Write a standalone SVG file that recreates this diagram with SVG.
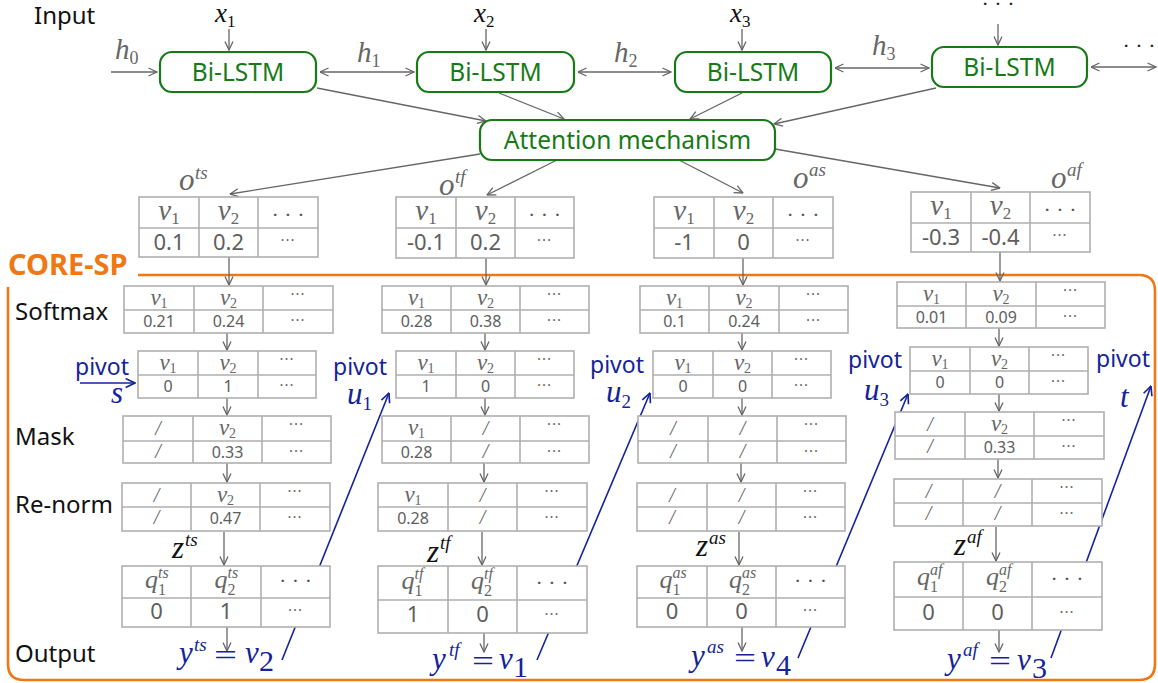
<svg xmlns="http://www.w3.org/2000/svg" width="1158" height="683" viewBox="0 0 1158 683">
<defs>
<marker id="ah" viewBox="0 0 10 10" refX="9.5" refY="5" markerWidth="10" markerHeight="10" markerUnits="userSpaceOnUse" orient="auto-start-reverse"><path d="M1,1 L9.5,5 L1,9" fill="none" stroke="#666" stroke-width="1.3"/></marker>
<marker id="bh" viewBox="0 0 10 10" refX="9.5" refY="5" markerWidth="11" markerHeight="11" markerUnits="userSpaceOnUse" orient="auto-start-reverse"><path d="M1,1 L9.5,5 L1,9" fill="none" stroke="#14239b" stroke-width="1.5"/></marker>
<style>
.lbl{font-family:"Noto Sans","Open Sans",sans-serif;font-size:24px;fill:#111}
.core{font-family:"Noto Sans","Open Sans",sans-serif;font-size:29px;font-weight:700;fill:#f07814}
.frame{fill:none;stroke:#f07814;stroke-width:2.6}
.gbox{fill:#fff;stroke:#177a17;stroke-width:2.2}
.gt{font-family:"Noto Sans","Open Sans",sans-serif;font-size:24.5px;fill:#177a17;text-anchor:middle}
.cell{fill:#fff;stroke:#b0b0b0;stroke-width:1.6}
.grid{fill:none;stroke:#b0b0b0;stroke-width:1.6}
.a{fill:none;stroke:#666;stroke-width:1.3;marker-end:url(#ah)}
.a2{fill:none;stroke:#666;stroke-width:1.3;marker-start:url(#ah);marker-end:url(#ah)}
.b{fill:none;stroke:#14239b;stroke-width:1.6;marker-end:url(#bh)}
.mi{font-family:"Liberation Serif","Times New Roman",serif;font-style:italic}
.up{font-style:normal}
.gr{fill:#666}
.k{fill:#111}
.bt{fill:#14239b}
.mid{text-anchor:middle}
.vo{font-size:29px}
.vi{font-size:23px}
.nb{font-family:"Noto Sans","Open Sans",sans-serif;font-size:22px;fill:#5e5e5e;text-anchor:middle}
.ns{font-family:"Noto Sans","Open Sans",sans-serif;font-size:16px;fill:#5e5e5e;text-anchor:middle}
.dl{font-family:"Liberation Serif",serif;font-size:22px;fill:#555;text-anchor:middle}
.ds{font-family:"Noto Sans","Open Sans",sans-serif;font-size:15px;fill:#666;text-anchor:middle;letter-spacing:1px}
.sl{font-family:"Liberation Serif",serif;font-style:italic;font-size:20px;fill:#666;text-anchor:middle}
.pv{font-family:"Noto Sans","Open Sans",sans-serif;font-size:23px;fill:#14239b}
.eq{font-family:"Liberation Serif",serif;font-size:30px;fill:#14239b}
.q{font-family:"Liberation Serif",serif;font-style:italic;fill:#666}
</style>
</defs>
<rect width="1158" height="683" fill="#fff"/>

<g id="side-labels">
<text class="lbl" x="34" y="24">Input</text>
<text class="lbl" x="15" y="320">Softmax</text>
<text class="lbl" x="15" y="445">Mask</text>
<text class="lbl" x="15" y="513">Re-norm</text>
<text class="lbl" x="15" y="662">Output</text>
<text class="core" x="8" y="275">CORE-SP</text>
</g>

<g id="core-sp-frame">
<path class="frame" d="M138,275 H1139 Q1155,275 1155,291 V664 Q1155,680 1139,680 H24 Q8,680 8,664 V287"/>
</g>

<g id="connectors">
<path class="a" d="M229 29V50"/>
<path class="a" d="M486 29V50"/>
<path class="a" d="M742 29V50"/>
<path class="a" d="M998 24V45"/>
<path class="a" d="M111 72H157"/>
<path class="a2" d="M320 72H414"/>
<path class="a2" d="M578 72H671"/>
<path class="a2" d="M835 68H929"/>
<path class="a2" d="M1091 67H1156"/>
<path class="a" d="M317 88L486 121"/>
<path class="a" d="M499 93L564 119"/>
<path class="a" d="M742 93L690 119"/>
<path class="a" d="M936 88L774 124"/>
<path class="a" d="M480 154L230 194"/>
<path class="a" d="M557 160L487 195"/>
<path class="a" d="M679 160L743 193"/>
<path class="a" d="M775 149L1000 188"/>
<path class="a" d="M229 257V285"/>
<path class="a" d="M227 333V350"/>
<path class="a" d="M227 398V415"/>
<path class="a" d="M227 463V482"/>
<path class="a" d="M224 532V565"/>
<path class="a" d="M227 627V651"/>
<path class="a" d="M486 258V285"/>
<path class="a" d="M485 333V350"/>
<path class="a" d="M485 398V415"/>
<path class="a" d="M484 463V482"/>
<path class="a" d="M482 532V565"/>
<path class="a" d="M484 633V652"/>
<path class="a" d="M743 258V285"/>
<path class="a" d="M742 333V350"/>
<path class="a" d="M742 398V415"/>
<path class="a" d="M741 463V482"/>
<path class="a" d="M739 532V565"/>
<path class="a" d="M742 627V651"/>
<path class="a" d="M1000 252V281"/>
<path class="a" d="M999 328V346"/>
<path class="a" d="M999 394V411"/>
<path class="a" d="M998 459V478"/>
<path class="a" d="M996 527V561"/>
<path class="a" d="M999 630V652"/>
<path class="b" d="M80 383H135"/>
<path class="b" d="M282 660L389 393"/>
<path class="b" d="M537 660L650 393"/>
<path class="b" d="M798 658L908 394"/>
<path class="b" d="M1051 658L1151 386"/>
</g>

<g id="bilstm-1"><rect class="gbox" x="160" y="52" width="156" height="40" rx="12"/><text class="gt" x="238" y="81">Bi-LSTM</text></g>
<g id="bilstm-2"><rect class="gbox" x="417" y="52" width="157" height="40" rx="12"/><text class="gt" x="495.5" y="81">Bi-LSTM</text></g>
<g id="bilstm-3"><rect class="gbox" x="675" y="52" width="156" height="40" rx="12"/><text class="gt" x="753" y="81">Bi-LSTM</text></g>
<g id="bilstm-4"><rect class="gbox" x="932" y="47" width="155" height="40" rx="12"/><text class="gt" x="1009.5" y="76">Bi-LSTM</text></g>
<g id="attention"><rect class="gbox" x="480" y="120" width="295" height="40" rx="12"/><text class="gt" x="627.5" y="149">Attention mechanism</text></g>

<g id="inputs">
<text class="mi k" x="215" y="22" font-size="27">x<tspan class="up" font-size="17" dy="5">1</tspan></text>
<text class="mi k" x="474" y="22" font-size="27">x<tspan class="up" font-size="17" dy="5">2</tspan></text>
<text class="mi k" x="730" y="22" font-size="27">x<tspan class="up" font-size="17" dy="5">3</tspan></text>
<text class="dl" x="998" y="11" style="fill:#222">· · ·</text>
<text class="dl" x="1139" y="53" style="fill:#222">· · ·</text>
<text class="mi gr" x="115" y="59" font-size="29">h<tspan class="up" font-size="18" dy="5">0</tspan></text>
<text class="mi gr" x="357" y="62" font-size="29">h<tspan class="up" font-size="18" dy="5">1</tspan></text>
<text class="mi gr" x="614" y="62" font-size="29">h<tspan class="up" font-size="18" dy="5">2</tspan></text>
<text class="mi gr" x="872" y="55" font-size="29">h<tspan class="up" font-size="18" dy="5">3</tspan></text>
</g>

<g id="o-labels">
<text class="mi gr" x="179" y="190" font-size="31">o</text><text class="mi gr" x="195" y="179" font-size="19">ts</text>
<text class="mi gr" x="439" y="195" font-size="31">o</text><text class="mi gr" x="455" y="183" font-size="19">tf</text>
<text class="mi gr" x="793" y="188" font-size="31">o</text><text class="mi gr" x="809" y="176" font-size="19">as</text>
<text class="mi gr" x="1051" y="188" font-size="31">o</text><text class="mi gr" x="1067" y="176" font-size="19">af</text>
</g>

<g id="ts-o">
<rect class="cell" x="139" y="197" width="179" height="60"/>
<path class="grid" d="M199 197V257M258 197V257M139 228H318"/>
<text class="mi gr mid vo" x="169" y="220">v<tspan class="up" font-size="17" dy="4">1</tspan></text>
<text class="mi gr mid vo" x="228.5" y="220">v<tspan class="up" font-size="17" dy="4">2</tspan></text>
<text class="dl" x="288" y="222">· · ·</text>
<text class="nb" x="169" y="250">0.1</text>
<text class="nb" x="228.5" y="250">0.2</text>
<text class="ds" x="288" y="245">···</text>
</g>
<g id="tf-o">
<rect class="cell" x="396" y="197" width="178" height="61"/>
<path class="grid" d="M456 197V258M515 197V258M396 228H574"/>
<text class="mi gr mid vo" x="426" y="220">v<tspan class="up" font-size="17" dy="4">1</tspan></text>
<text class="mi gr mid vo" x="485.5" y="220">v<tspan class="up" font-size="17" dy="4">2</tspan></text>
<text class="dl" x="544.5" y="222">· · ·</text>
<text class="nb" x="426" y="250">-0.1</text>
<text class="nb" x="485.5" y="250">0.2</text>
<text class="ds" x="544.5" y="245">···</text>
</g>
<g id="as-o">
<rect class="cell" x="654" y="197" width="179" height="61"/>
<path class="grid" d="M714 197V258M773 197V258M654 228H833"/>
<text class="mi gr mid vo" x="684" y="220">v<tspan class="up" font-size="17" dy="4">1</tspan></text>
<text class="mi gr mid vo" x="743.5" y="220">v<tspan class="up" font-size="17" dy="4">2</tspan></text>
<text class="dl" x="803" y="222">· · ·</text>
<text class="nb" x="684" y="250">-1</text>
<text class="nb" x="743.5" y="250">0</text>
<text class="ds" x="803" y="245">···</text>
</g>
<g id="af-o">
<rect class="cell" x="911" y="192" width="179" height="60"/>
<path class="grid" d="M971 192V252M1030 192V252M911 223H1090"/>
<text class="mi gr mid vo" x="941" y="215">v<tspan class="up" font-size="17" dy="4">1</tspan></text>
<text class="mi gr mid vo" x="1000.5" y="215">v<tspan class="up" font-size="17" dy="4">2</tspan></text>
<text class="dl" x="1060" y="217">· · ·</text>
<text class="nb" x="941" y="245">-0.3</text>
<text class="nb" x="1000.5" y="245">-0.4</text>
<text class="ds" x="1060" y="240">···</text>
</g>

<g id="ts-softmax">
<rect class="cell" x="124" y="286" width="209" height="47"/>
<path class="grid" d="M194 286V333M263 286V333M124 310H333"/>
<text class="mi gr mid vi" x="159" y="305">v<tspan class="up" font-size="14" dy="3">1</tspan></text>
<text class="mi gr mid vi" x="228.5" y="305">v<tspan class="up" font-size="14" dy="3">2</tspan></text>
<text class="ds" x="298" y="299">···</text>
<text class="ns" x="159" y="327">0.21</text>
<text class="ns" x="228.5" y="327">0.24</text>
<text class="ds" x="298" y="325">···</text>
</g>
<g id="ts-pivot">
<rect class="cell" x="138" y="351" width="178" height="47"/>
<path class="grid" d="M198 351V398M258 351V398M138 375H316"/>
<text class="mi gr mid vi" x="168" y="370">v<tspan class="up" font-size="14" dy="3">1</tspan></text>
<text class="mi gr mid vi" x="228" y="370">v<tspan class="up" font-size="14" dy="3">2</tspan></text>
<text class="ds" x="287" y="364">···</text>
<text class="ns" x="168" y="392">0</text>
<text class="ns" x="228" y="392">1</text>
<text class="ds" x="287" y="390">···</text>
</g>
<g id="ts-mask">
<rect class="cell" x="123" y="416" width="208" height="47"/>
<path class="grid" d="M193 416V463M262 416V463M123 441H331"/>
<text class="sl" x="158" y="435">/</text>
<text class="mi gr mid vi" x="227.5" y="435">v<tspan class="up" font-size="14" dy="3">2</tspan></text>
<text class="ds" x="296.5" y="429">···</text>
<text class="sl" x="158" y="458">/</text>
<text class="ns" x="227.5" y="458">0.33</text>
<text class="ds" x="296.5" y="456">···</text>
</g>
<g id="ts-renorm">
<rect class="cell" x="122" y="483" width="208" height="48"/>
<path class="grid" d="M191 483V531M260 483V531M122 507H330"/>
<text class="sl" x="156.5" y="502">/</text>
<text class="mi gr mid vi" x="225.5" y="502">v<tspan class="up" font-size="14" dy="3">2</tspan></text>
<text class="ds" x="295" y="496">···</text>
<text class="sl" x="156.5" y="524">/</text>
<text class="ns" x="225.5" y="524">0.47</text>
<text class="ds" x="295" y="522">···</text>
</g>
<g id="ts-output">
<rect class="cell" x="122" y="566" width="208" height="61"/>
<path class="grid" d="M191 566V627M261 566V627M122 598H330"/>
<text class="q" x="145" y="588" font-size="26">q</text><text class="q" x="158" y="595" font-size="16" style="font-style:normal">1</text><text class="q" x="158" y="578" font-size="16">ts</text>
<text class="q" x="214.5" y="588" font-size="26">q</text><text class="q" x="227.5" y="595" font-size="16" style="font-style:normal">2</text><text class="q" x="227.5" y="578" font-size="16">ts</text>
<text class="dl" x="295.5" y="588">· · ·</text>
<text class="nb" x="156.5" y="619">0</text>
<text class="nb" x="226" y="619">1</text>
<text class="ds" x="295.5" y="615">···</text>
</g>

<g id="tf-softmax">
<rect class="cell" x="382" y="286" width="207" height="47"/>
<path class="grid" d="M451 286V333M520 286V333M382 310H589"/>
<text class="mi gr mid vi" x="416.5" y="305">v<tspan class="up" font-size="14" dy="3">1</tspan></text>
<text class="mi gr mid vi" x="485.5" y="305">v<tspan class="up" font-size="14" dy="3">2</tspan></text>
<text class="ds" x="554.5" y="299">···</text>
<text class="ns" x="416.5" y="327">0.28</text>
<text class="ns" x="485.5" y="327">0.38</text>
<text class="ds" x="554.5" y="325">···</text>
</g>
<g id="tf-pivot">
<rect class="cell" x="396" y="351" width="178" height="47"/>
<path class="grid" d="M456 351V398M515 351V398M396 375H574"/>
<text class="mi gr mid vi" x="426" y="370">v<tspan class="up" font-size="14" dy="3">1</tspan></text>
<text class="mi gr mid vi" x="485.5" y="370">v<tspan class="up" font-size="14" dy="3">2</tspan></text>
<text class="ds" x="544.5" y="364">···</text>
<text class="ns" x="426" y="392">1</text>
<text class="ns" x="485.5" y="392">0</text>
<text class="ds" x="544.5" y="390">···</text>
</g>
<g id="tf-mask">
<rect class="cell" x="382" y="416" width="207" height="47"/>
<path class="grid" d="M451 416V463M520 416V463M382 441H589"/>
<text class="mi gr mid vi" x="416.5" y="435">v<tspan class="up" font-size="14" dy="3">1</tspan></text>
<text class="sl" x="485.5" y="435">/</text>
<text class="ds" x="554.5" y="429">···</text>
<text class="ns" x="416.5" y="458">0.28</text>
<text class="sl" x="485.5" y="458">/</text>
<text class="ds" x="554.5" y="456">···</text>
</g>
<g id="tf-renorm">
<rect class="cell" x="378" y="483" width="209" height="48"/>
<path class="grid" d="M448 483V531M517 483V531M378 507H587"/>
<text class="mi gr mid vi" x="413" y="502">v<tspan class="up" font-size="14" dy="3">1</tspan></text>
<text class="sl" x="482.5" y="502">/</text>
<text class="ds" x="552" y="496">···</text>
<text class="ns" x="413" y="524">0.28</text>
<text class="sl" x="482.5" y="524">/</text>
<text class="ds" x="552" y="522">···</text>
</g>
<g id="tf-output">
<rect class="cell" x="378" y="566" width="209" height="67"/>
<path class="grid" d="M448 566V633M517 566V633M378 600H587"/>
<text class="q" x="401.5" y="589" font-size="26">q</text><text class="q" x="414.5" y="596" font-size="16" style="font-style:normal">1</text><text class="q" x="414.5" y="579" font-size="16">tf</text>
<text class="q" x="471" y="589" font-size="26">q</text><text class="q" x="484" y="596" font-size="16" style="font-style:normal">2</text><text class="q" x="484" y="579" font-size="16">tf</text>
<text class="dl" x="552" y="590">· · ·</text>
<text class="nb" x="413" y="622">1</text>
<text class="nb" x="482.5" y="622">0</text>
<text class="ds" x="552" y="619">···</text>
</g>

<g id="as-softmax">
<rect class="cell" x="640" y="286" width="208" height="47"/>
<path class="grid" d="M709 286V333M779 286V333M640 310H848"/>
<text class="mi gr mid vi" x="674.5" y="305">v<tspan class="up" font-size="14" dy="3">1</tspan></text>
<text class="mi gr mid vi" x="744" y="305">v<tspan class="up" font-size="14" dy="3">2</tspan></text>
<text class="ds" x="813.5" y="299">···</text>
<text class="ns" x="674.5" y="327">0.1</text>
<text class="ns" x="744" y="327">0.24</text>
<text class="ds" x="813.5" y="325">···</text>
</g>
<g id="as-pivot">
<rect class="cell" x="653" y="351" width="178" height="47"/>
<path class="grid" d="M713 351V398M772 351V398M653 375H831"/>
<text class="mi gr mid vi" x="683" y="370">v<tspan class="up" font-size="14" dy="3">1</tspan></text>
<text class="mi gr mid vi" x="742.5" y="370">v<tspan class="up" font-size="14" dy="3">2</tspan></text>
<text class="ds" x="801.5" y="364">···</text>
<text class="ns" x="683" y="392">0</text>
<text class="ns" x="742.5" y="392">0</text>
<text class="ds" x="801.5" y="390">···</text>
</g>
<g id="as-mask">
<rect class="cell" x="638" y="416" width="208" height="47"/>
<path class="grid" d="M708 416V463M777 416V463M638 441H846"/>
<text class="sl" x="673" y="435">/</text>
<text class="sl" x="742.5" y="435">/</text>
<text class="ds" x="811.5" y="429">···</text>
<text class="sl" x="673" y="458">/</text>
<text class="sl" x="742.5" y="458">/</text>
<text class="ds" x="811.5" y="456">···</text>
</g>
<g id="as-renorm">
<rect class="cell" x="637" y="483" width="208" height="48"/>
<path class="grid" d="M707 483V531M776 483V531M637 507H845"/>
<text class="sl" x="672" y="502">/</text>
<text class="sl" x="741.5" y="502">/</text>
<text class="ds" x="810.5" y="496">···</text>
<text class="sl" x="672" y="524">/</text>
<text class="sl" x="741.5" y="524">/</text>
<text class="ds" x="810.5" y="522">···</text>
</g>
<g id="as-output">
<rect class="cell" x="637" y="566" width="208" height="61"/>
<path class="grid" d="M707 566V627M776 566V627M637 598H845"/>
<text class="q" x="659.5" y="588" font-size="26">q</text><text class="q" x="672.5" y="595" font-size="16" style="font-style:normal">1</text><text class="q" x="672.5" y="578" font-size="16">as</text>
<text class="q" x="729" y="588" font-size="26">q</text><text class="q" x="742" y="595" font-size="16" style="font-style:normal">2</text><text class="q" x="742" y="578" font-size="16">as</text>
<text class="dl" x="810.5" y="588">· · ·</text>
<text class="nb" x="672" y="619">0</text>
<text class="nb" x="741.5" y="619">0</text>
<text class="ds" x="810.5" y="615">···</text>
</g>

<g id="af-softmax">
<rect class="cell" x="897" y="282" width="208" height="46"/>
<path class="grid" d="M966 282V328M1036 282V328M897 306H1105"/>
<text class="mi gr mid vi" x="931.5" y="301">v<tspan class="up" font-size="14" dy="3">1</tspan></text>
<text class="mi gr mid vi" x="1001" y="301">v<tspan class="up" font-size="14" dy="3">2</tspan></text>
<text class="ds" x="1070.5" y="295">···</text>
<text class="ns" x="931.5" y="323">0.01</text>
<text class="ns" x="1001" y="323">0.09</text>
<text class="ds" x="1070.5" y="321">···</text>
</g>
<g id="af-pivot">
<rect class="cell" x="910" y="347" width="178" height="47"/>
<path class="grid" d="M970 347V394M1029 347V394M910 371H1088"/>
<text class="mi gr mid vi" x="940" y="366">v<tspan class="up" font-size="14" dy="3">1</tspan></text>
<text class="mi gr mid vi" x="999.5" y="366">v<tspan class="up" font-size="14" dy="3">2</tspan></text>
<text class="ds" x="1058.5" y="360">···</text>
<text class="ns" x="940" y="388">0</text>
<text class="ns" x="999.5" y="388">0</text>
<text class="ds" x="1058.5" y="386">···</text>
</g>
<g id="af-mask">
<rect class="cell" x="895" y="412" width="209" height="47"/>
<path class="grid" d="M965 412V459M1034 412V459M895 436H1104"/>
<text class="sl" x="930" y="431">/</text>
<text class="mi gr mid vi" x="999.5" y="431">v<tspan class="up" font-size="14" dy="3">2</tspan></text>
<text class="ds" x="1069" y="425">···</text>
<text class="sl" x="930" y="453">/</text>
<text class="ns" x="999.5" y="453">0.33</text>
<text class="ds" x="1069" y="451">···</text>
</g>
<g id="af-renorm">
<rect class="cell" x="894" y="479" width="208" height="47"/>
<path class="grid" d="M963 479V526M1032 479V526M894 503H1102"/>
<text class="sl" x="928.5" y="498">/</text>
<text class="sl" x="997.5" y="498">/</text>
<text class="ds" x="1067" y="492">···</text>
<text class="sl" x="928.5" y="520">/</text>
<text class="sl" x="997.5" y="520">/</text>
<text class="ds" x="1067" y="518">···</text>
</g>
<g id="af-output">
<rect class="cell" x="894" y="562" width="208" height="68"/>
<path class="grid" d="M963 562V630M1032 562V630M894 597H1102"/>
<text class="q" x="917" y="585" font-size="26">q</text><text class="q" x="930" y="592" font-size="16" style="font-style:normal">1</text><text class="q" x="930" y="575" font-size="16">af</text>
<text class="q" x="986" y="585" font-size="26">q</text><text class="q" x="999" y="592" font-size="16" style="font-style:normal">2</text><text class="q" x="999" y="575" font-size="16">af</text>
<text class="dl" x="1067" y="586">· · ·</text>
<text class="nb" x="928.5" y="620">0</text>
<text class="nb" x="997.5" y="620">0</text>
<text class="ds" x="1067" y="617">···</text>
</g>

<g id="z-labels">
<text class="mi k" x="172" y="558" font-size="31">z</text><text class="mi k" x="185" y="546" font-size="19">ts</text>
<text class="mi k" x="427" y="562" font-size="31">z</text><text class="mi k" x="440" y="549" font-size="19">tf</text>
<text class="mi k" x="696" y="556" font-size="31">z</text><text class="mi k" x="709" y="544" font-size="19">as</text>
<text class="mi k" x="954" y="555" font-size="31">z</text><text class="mi k" x="967" y="543" font-size="19">af</text>
</g>

<g id="pivot-labels">
<text class="pv" x="75" y="375">pivot</text>
<text class="mi bt" x="111" y="403" font-size="31">s</text>
<text class="pv" x="333" y="375">pivot</text>
<text class="mi bt" x="347" y="404" font-size="31">u<tspan class="up" font-size="19" dy="6">1</tspan></text>
<text class="pv" x="590" y="373">pivot</text>
<text class="mi bt" x="606" y="402" font-size="31">u<tspan class="up" font-size="19" dy="6">2</tspan></text>
<text class="pv" x="848" y="368">pivot</text>
<text class="mi bt" x="864" y="400" font-size="31">u<tspan class="up" font-size="19" dy="6">3</tspan></text>
<text class="pv" x="1096" y="367">pivot</text>
<text class="mi bt" x="1120" y="407" font-size="31">t</text>
</g>

<g id="outputs">
<text class="mi bt" x="179" y="663" font-size="31">y</text><text class="mi bt" x="194" y="651" font-size="19">ts</text>
<text class="eq" x="214" y="665" textLength="23" lengthAdjust="spacingAndGlyphs">=</text>
<text class="mi bt" x="245" y="663" font-size="31">v</text><text class="eq" x="259" y="671" font-size="19">2</text>

<text class="mi bt" x="432" y="669" font-size="31">y</text><text class="mi bt" x="449" y="656" font-size="19">tf</text>
<text class="eq" x="472" y="671" textLength="22" lengthAdjust="spacingAndGlyphs">=</text>
<text class="mi bt" x="499" y="669" font-size="31">v</text><text class="eq" x="513" y="677" font-size="19">1</text>

<text class="mi bt" x="691" y="666" font-size="31">y</text><text class="mi bt" x="707" y="653" font-size="19">as</text>
<text class="eq" x="734" y="668" textLength="22" lengthAdjust="spacingAndGlyphs">=</text>
<text class="mi bt" x="761" y="667" font-size="31">v</text><text class="eq" x="776" y="675" font-size="19">4</text>

<text class="mi bt" x="947" y="669" font-size="31">y</text><text class="mi bt" x="963" y="656" font-size="19">af</text>
<text class="eq" x="989" y="671" textLength="22" lengthAdjust="spacingAndGlyphs">=</text>
<text class="mi bt" x="1017" y="670" font-size="31">v</text><text class="eq" x="1032" y="678" font-size="19">3</text>
</g>
</svg>
